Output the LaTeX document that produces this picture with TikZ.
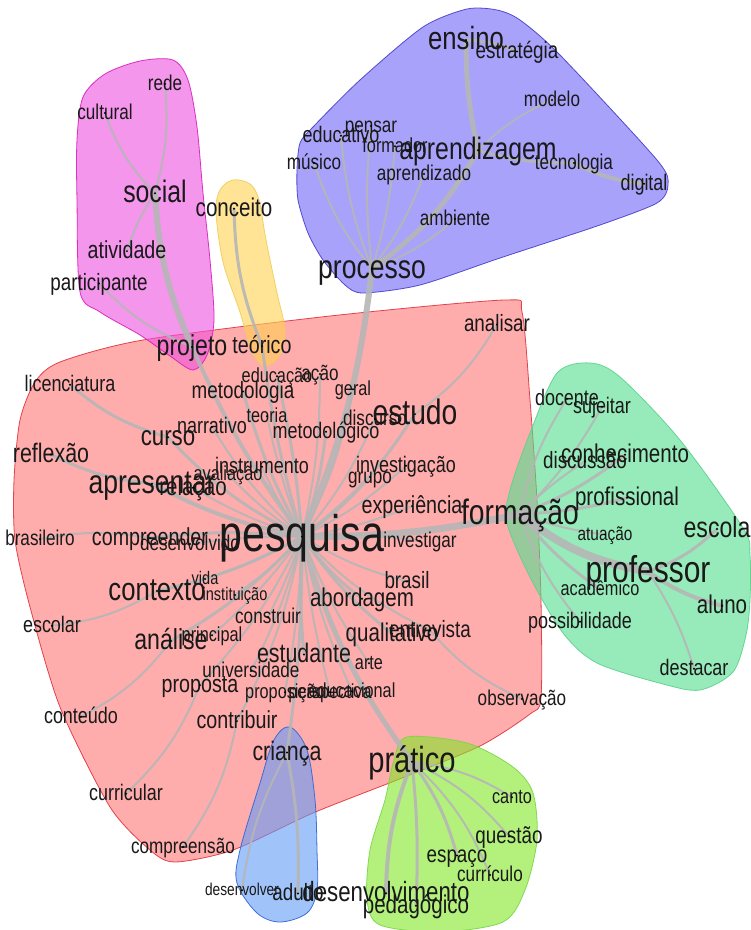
\documentclass[tikz,border=0pt]{standalone}
\usepackage{fontspec}
\setmainfont{Liberation Sans}
\pgfdeclarelayer{hulls}
\pgfdeclarelayer{links}
\pgfsetlayers{hulls,links,main}
\definecolor{redf}{RGB}{255,117,117}
\definecolor{redl}{RGB}{225,50,60}
\definecolor{pinkf}{RGB}{238,80,222}
\definecolor{pinkl}{RGB}{215,30,190}
\definecolor{yelf}{RGB}{255,210,80}
\definecolor{yell}{RGB}{240,205,90}
\definecolor{purf}{RGB}{110,100,247}
\definecolor{purl}{RGB}{70,60,200}
\definecolor{mintf}{RGB}{83,223,143}
\definecolor{mintl}{RGB}{90,210,140}
\definecolor{ltbf}{RGB}{97,155,247}
\definecolor{ltbl}{RGB}{50,100,210}
\definecolor{grnf}{RGB}{130,230,38}
\definecolor{grnl}{RGB}{120,215,70}
\definecolor{lnkc}{RGB}{182,182,182}
\tikzset{
  wrd/.style={anchor=base, inner sep=0pt, text=black!90},
  hull/.style 2 args={fill=#1, draw=#2, fill opacity=0.6, draw opacity=0.9, line width=0.8pt},
  lnk/.style={draw=lnkc, line width=#1, line cap=round, draw opacity=0.9},
}
\newcommand\wnode[5]{%
  \coordinate (#1) at (#2,{#3-0.3*#4});
  \pgfmathsetmacro\wfs{1.07*#4}%
  \node[wrd, font=\fontsize{\wfs pt}{\wfs pt}\selectfont] (#1t) at (#2,#3) {\scalebox{0.8}[1]{#5}};
  \fill[black] (#1) circle (1.1pt);}
\begin{document}
\begin{tikzpicture}[x=1pt,y=-1pt]
\useasboundingbox (0,0) rectangle (751,930);
\begin{pgfonlayer}{hulls}
\fill[white] (0,0) rectangle (751,930);
% red
\filldraw[hull={redf}{redl}] plot[smooth cycle, tension=0.45] coordinates {
 (60,362) (143,340) (330,316) (505,300) (522,312) (530,400) (537,500) (541,600) (541,698) (530,714)
 (480,746) (397,780) (313,813) (233,850) (175,862) (150,850) (110,807) (60,707) (30,607) (15,540)
 (14,480) (20,420) (35,382)};
% pink
\filldraw[hull={pinkf}{pinkl}] plot[smooth cycle, tension=0.5] coordinates {
 (83,97) (105,74) (140,61) (173,60) (188,80) (197,127) (203,193) (210,260) (214,320) (207,355)
 (193,370) (170,356) (140,335) (100,312) (80,292) (77,200) (77,140)};
% yellow
\filldraw[hull={yelf}{yell}] plot[smooth cycle, tension=0.55] coordinates {
 (233,180) (250,184) (259,200) (266,240) (277,293) (285,330) (280,355) (265,366) (252,352)
 (240,312) (223,262) (216,212) (220,190)};
% purple
\filldraw[hull={purf}{purl}] plot[smooth cycle, tension=0.45] coordinates {
 (423,27) (467,9) (497,10) (520,20) (560,55) (657,160) (668,185) (657,203) (600,225) (500,258)
 (420,285) (363,293) (345,285) (323,260) (308,233) (298,200) (297,170) (300,143) (313,127) (360,80)};
% mint
\filldraw[hull={mintf}{mintl}] plot[smooth cycle, tension=0.5] coordinates {
 (590,363) (620,377) (680,440) (743,528) (750,555) (750,600) (746,635) (733,672) (700,690)
 (663,684) (597,663) (563,633) (530,577) (507,523) (510,490) (530,433) (557,373)};
% light blue
\filldraw[hull={ltbf}{ltbl}] plot[smooth cycle, tension=0.55] coordinates {
 (290,727) (307,750) (315,800) (317,850) (317,890) (307,913) (280,922) (257,913) (237,883)
 (240,850) (260,783) (274,740)};
% light green
\filldraw[hull={grnf}{grnl}] plot[smooth cycle, tension=0.5] coordinates {
 (407,737) (467,743) (513,767) (533,793) (537,840) (525,890) (503,922) (440,932) (380,925)
 (367,900) (370,850) (385,800) (394,760)};
\end{pgfonlayer}

% words
\wnode{pesquisa}{302}{551}{48}{pesquisa}
\wnode{apresentar}{152}{493}{31}{apresentar}
\wnode{estudo}{415}{424}{33}{estudo}
\wnode{formacao}{520}{524}{33}{formação}
\wnode{professor}{648}{582}{35}{professor}
\wnode{pratico}{412}{772}{34}{prático}
\wnode{contexto}{157}{600}{30}{contexto}
\wnode{analise}{171}{649}{27}{análise}
\wnode{processo}{372}{278}{31}{processo}
\wnode{ensino}{466}{49}{30}{ensino}
\wnode{aprendizagem}{478}{159}{29}{aprendizagem}
\wnode{social}{155}{202}{29}{social}
\wnode{curso}{168}{445}{26}{curso}
\wnode{compreender}{150}{545}{23}{compreender}
\wnode{crianca}{287}{760}{25}{criança}
\wnode{desenvolvimento}{386}{901}{26}{desenvolvimento}
\wnode{pedagogico}{416}{913}{24}{pedagógico}
\wnode{escola}{717}{537}{27}{escola}
\wnode{aluno}{722}{613}{24}{aluno}
\wnode{projeto}{192}{355}{27}{projeto}
\wnode{teorico}{262}{353}{23}{teórico}
\wnode{educacao}{277}{382}{19}{educação}
\wnode{acao}{320}{380}{20}{ação}
\wnode{metodologia}{243}{398}{22}{metodologia}
\wnode{geral}{353}{395}{19}{geral}
\wnode{teoria}{267}{422}{19}{teoria}
\wnode{narrativo}{212}{433}{21}{narrativo}
\wnode{discurso}{375}{425}{20}{discurso}
\wnode{metodologico}{326}{438}{21}{metodológico}
\wnode{instrumento}{262}{473}{21}{instrumento}
\wnode{investigacao}{406}{472}{21}{investigação}
\wnode{grupo}{370}{483}{20}{grupo}
\wnode{experiencia}{412}{513}{23}{experiência}
\wnode{investigar}{420}{547}{20}{investigar}
\wnode{analisar}{497}{331}{22}{analisar}
\wnode{licenciatura}{70}{391}{21}{licenciatura}
\wnode{reflexao}{51}{462}{25}{reflexão}
\wnode{brasileiro}{40}{545}{20}{brasileiro}
\wnode{relacao}{193}{495}{24}{relação}
\wnode{avaliacao}{228}{480}{19}{avaliação}
\wnode{desenvolvido}{190}{550}{20}{desenvolvido}
\wnode{vida}{205}{584}{17}{vida}
\wnode{instituicao}{235}{600}{17}{instituição}
\wnode{construir}{268}{623}{20}{construir}
\wnode{escolar}{52}{632}{21}{escolar}
\wnode{principal}{212}{641}{19}{principal}
\wnode{universidade}{251}{677}{20}{universidade}
\wnode{estudante}{304}{662}{25}{estudante}
\wnode{proposta}{200}{692}{23}{proposta}
\wnode{proposicao}{285}{698}{19}{proposição}
\wnode{perspectiva}{330}{698}{19}{perspectiva}
\wnode{educacional}{352}{697}{19}{educacional}
\wnode{conteudo}{81}{723}{21}{conteúdo}
\wnode{contribuir}{237}{728}{23}{contribuir}
\wnode{curricular}{126}{800}{21}{curricular}
\wnode{compreensao}{183}{853}{20}{compreensão}
\wnode{desenvolver}{242}{895}{16}{desenvolver}
\wnode{adulto}{298}{900}{22}{adulto}
\wnode{abordagem}{362}{606}{24}{abordagem}
\wnode{brasil}{407}{588}{22}{brasil}
\wnode{qualitativo}{392}{641}{24}{qualitativo}
\wnode{entrevista}{430}{637}{22}{entrevista}
\wnode{arte}{369}{669}{19}{arte}
\wnode{observacao}{522}{705}{20}{observação}
\wnode{canto}{512}{803}{19}{canto}
\wnode{questao}{509}{843}{22}{questão}
\wnode{espaco}{457}{862}{22}{espaço}
\wnode{curriculo}{490}{881}{20}{currículo}
\wnode{docente}{567}{405}{21}{docente}
\wnode{sujeitar}{602}{413}{21}{sujeitar}
\wnode{conhecimento}{625}{462}{24}{conhecimento}
\wnode{discussao}{585}{468}{22}{discussão}
\wnode{profissional}{627}{505}{24}{profissional}
\wnode{atuacao}{605}{540}{18}{atuação}
\wnode{academico}{600}{595}{19}{acadêmico}
\wnode{possibilidade}{580}{628}{21}{possibilidade}
\wnode{destacar}{694}{675}{21}{destacar}
\wnode{estrategia}{517}{58}{22}{estratégia}
\wnode{modelo}{552}{106}{20}{modelo}
\wnode{pensar}{371}{132}{20}{pensar}
\wnode{educativo}{341}{142}{21}{educativo}
\wnode{formador}{395}{152}{19}{formador}
\wnode{musico}{314}{169}{20}{músico}
\wnode{tecnologia}{574}{169}{20}{tecnologia}
\wnode{digital}{644}{190}{21}{digital}
\wnode{aprendizado}{424}{180}{20}{aprendizado}
\wnode{ambiente}{455}{225}{20}{ambiente}
\wnode{rede}{165}{90}{20}{rede}
\wnode{cultural}{105}{119}{20}{cultural}
\wnode{conceito}{234}{216}{24}{conceito}
\wnode{atividade}{127}{258}{23}{atividade}
\wnode{participante}{99}{290}{22}{participante}

\begin{pgfonlayer}{links}
% hub links
\draw[lnk=6pt] (pesquisa) to[bend right=8] (processo);
\draw[lnk=4pt] (pesquisa) to[bend left=6] (projeto);
\draw[lnk=3pt] (pesquisa) to[bend left=4] (teorico);
\draw[lnk=3pt] (pesquisa) to[bend right=4] (educacao);
\draw[lnk=2pt] (pesquisa) to[bend right=6] (acao);
\draw[lnk=3pt] (pesquisa) to[bend left=6] (metodologia);
\draw[lnk=2pt] (pesquisa) to[bend right=8] (geral);
\draw[lnk=2pt] (pesquisa) to[bend left=4] (teoria);
\draw[lnk=2pt] (pesquisa) to[bend left=8] (narrativo);
\draw[lnk=3pt] (pesquisa) to[bend right=6] (metodologico);
\draw[lnk=3pt] (pesquisa) to[bend left=10] (curso);
\draw[lnk=2pt] (pesquisa) to[bend left=6] (instrumento);
\draw[lnk=4pt] (pesquisa) to[bend left=8] (apresentar);
\draw[lnk=2pt] (pesquisa) to[bend left=6] (relacao);
\draw[lnk=2pt] (pesquisa) to[bend left=6] (avaliacao);
\draw[lnk=2pt] (pesquisa) to[bend right=8] (investigacao);
\draw[lnk=2pt] (pesquisa) to[bend right=8] (grupo);
\draw[lnk=3pt] (pesquisa) to[bend right=10] (estudo);
\draw[lnk=2pt] (pesquisa) to[bend right=8] (discurso);
\draw[lnk=2pt] (pesquisa) to[bend right=6] (experiencia);
\draw[lnk=7pt] (pesquisa) to[bend right=6] (formacao);
\draw[lnk=2pt] (pesquisa) to[bend left=6] (investigar);
\draw[lnk=3pt] (pesquisa) to[bend right=6] (compreender);
\draw[lnk=2pt] (pesquisa) to[bend right=4] (desenvolvido);
\draw[lnk=3pt] (pesquisa) to[bend left=8] (contexto);
\draw[lnk=2pt] (pesquisa) to[bend left=6] (vida);
\draw[lnk=2pt] (pesquisa) to[bend left=6] (instituicao);
\draw[lnk=2pt] (pesquisa) to[bend left=4] (construir);
\draw[lnk=3pt] (pesquisa) to[bend left=8] (analise);
\draw[lnk=2pt] (pesquisa) to[bend left=6] (principal);
\draw[lnk=3pt] (pesquisa) to[bend right=4] (estudante);
\draw[lnk=2pt] (pesquisa) to[bend left=6] (universidade);
\draw[lnk=2pt] (pesquisa) to[bend left=8] (proposta);
\draw[lnk=2pt] (pesquisa) to[bend left=4] (proposicao);
\draw[lnk=2pt] (pesquisa) to[bend right=4] (perspectiva);
\draw[lnk=2pt] (pesquisa) to[bend right=6] (educacional);
\draw[lnk=3pt] (pesquisa) to[bend right=8] (abordagem);
\draw[lnk=2pt] (pesquisa) to[bend right=8] (brasil);
\draw[lnk=3pt] (pesquisa) to[bend right=8] (qualitativo);
\draw[lnk=2pt] (pesquisa) to[bend right=10] (entrevista);
\draw[lnk=2pt] (pesquisa) to[bend right=6] (arte);
\draw[lnk=5pt] (pesquisa) to[bend right=10] (pratico);
\draw[lnk=2pt] (pesquisa) to[bend left=8] (contribuir);
\draw[lnk=3pt] (pesquisa) to[bend left=4] (crianca);
% processo group
\draw[lnk=5pt] (processo) to[bend right=12] (aprendizagem);
\draw[lnk=5pt] (aprendizagem) to[bend left=6] (ensino);
\draw[lnk=3pt] (ensino) to[bend left=10] (estrategia);
\draw[lnk=2pt] (processo) to[bend right=10] (ambiente);
\draw[lnk=2pt] (aprendizagem) to[bend left=10] (modelo);
\draw[lnk=3pt] (aprendizagem) to[bend right=8] (tecnologia);
\draw[lnk=4pt] (tecnologia) to[bend right=10] (digital);
\draw[lnk=2pt] (processo) to[bend left=10] (musico);
\draw[lnk=2pt] (processo) to[bend left=8] (educativo);
\draw[lnk=2pt] (processo) to[bend left=6] (pensar);
\draw[lnk=2pt] (processo) to[bend right=6] (formador);
\draw[lnk=2pt] (processo) to[bend right=8] (aprendizado);
% projeto group
\draw[lnk=6pt] (projeto) to[bend left=10] (social);
\draw[lnk=2pt] (social) to[bend left=12] (cultural);
\draw[lnk=2pt] (social) to[bend right=10] (rede);
\draw[lnk=2pt] (social) to[bend right=8] (atividade);
\draw[lnk=2pt] (projeto) to[bend left=12] (participante);
\draw[lnk=3pt] (teorico) to[bend left=10] (conceito);
% others
\draw[lnk=3pt] (curso) to[bend left=12] (licenciatura);
\draw[lnk=3pt] (apresentar) to[bend left=10] (reflexao);
\draw[lnk=2pt] (compreender) to[bend right=10] (brasileiro);
\draw[lnk=2pt] (contexto) to[bend left=12] (escolar);
\draw[lnk=2pt] (analise) to[bend left=12] (conteudo);
\draw[lnk=2pt] (proposta) to[bend left=12] (curricular);
\draw[lnk=2pt] (contribuir) to[bend left=12] (compreensao);
\draw[lnk=2pt] (crianca) to[bend right=10] (desenvolver);
\draw[lnk=3pt] (crianca) to[bend left=6] (adulto);
\draw[lnk=4pt] (pratico) to[bend right=10] (desenvolvimento);
\draw[lnk=3pt] (pratico) to[bend left=4] (pedagogico);
\draw[lnk=3pt] (pratico) to[bend left=10] (espaco);
\draw[lnk=2pt] (pratico) to[bend left=12] (curriculo);
\draw[lnk=2pt] (pratico) to[bend left=12] (questao);
\draw[lnk=2pt] (pratico) to[bend left=12] (canto);
\draw[lnk=8pt] (formacao) to[bend right=14] (professor);
\draw[lnk=2pt] (formacao) to[bend left=10] (docente);
\draw[lnk=2pt] (formacao) to[bend right=8] (sujeitar);
\draw[lnk=3pt] (formacao) to[bend right=8] (conhecimento);
\draw[lnk=2pt] (formacao) to[bend left=6] (discussao);
\draw[lnk=3pt] (formacao) to[bend right=6] (profissional);
\draw[lnk=2pt] (formacao) to[bend right=6] (atuacao);
\draw[lnk=3pt] (formacao) to[bend right=8] (academico);
\draw[lnk=2pt] (formacao) to[bend right=10] (possibilidade);
\draw[lnk=3pt] (professor) to[bend right=12] (escola);
\draw[lnk=4pt] (professor) to[bend right=10] (aluno);
\draw[lnk=2pt] (professor) to[bend left=8] (destacar);
\draw[lnk=2pt] (estudo) to[bend right=12] (analisar);
\draw[lnk=2pt] (entrevista) to[bend right=12] (observacao);
\end{pgfonlayer}
\end{tikzpicture}
\end{document}
